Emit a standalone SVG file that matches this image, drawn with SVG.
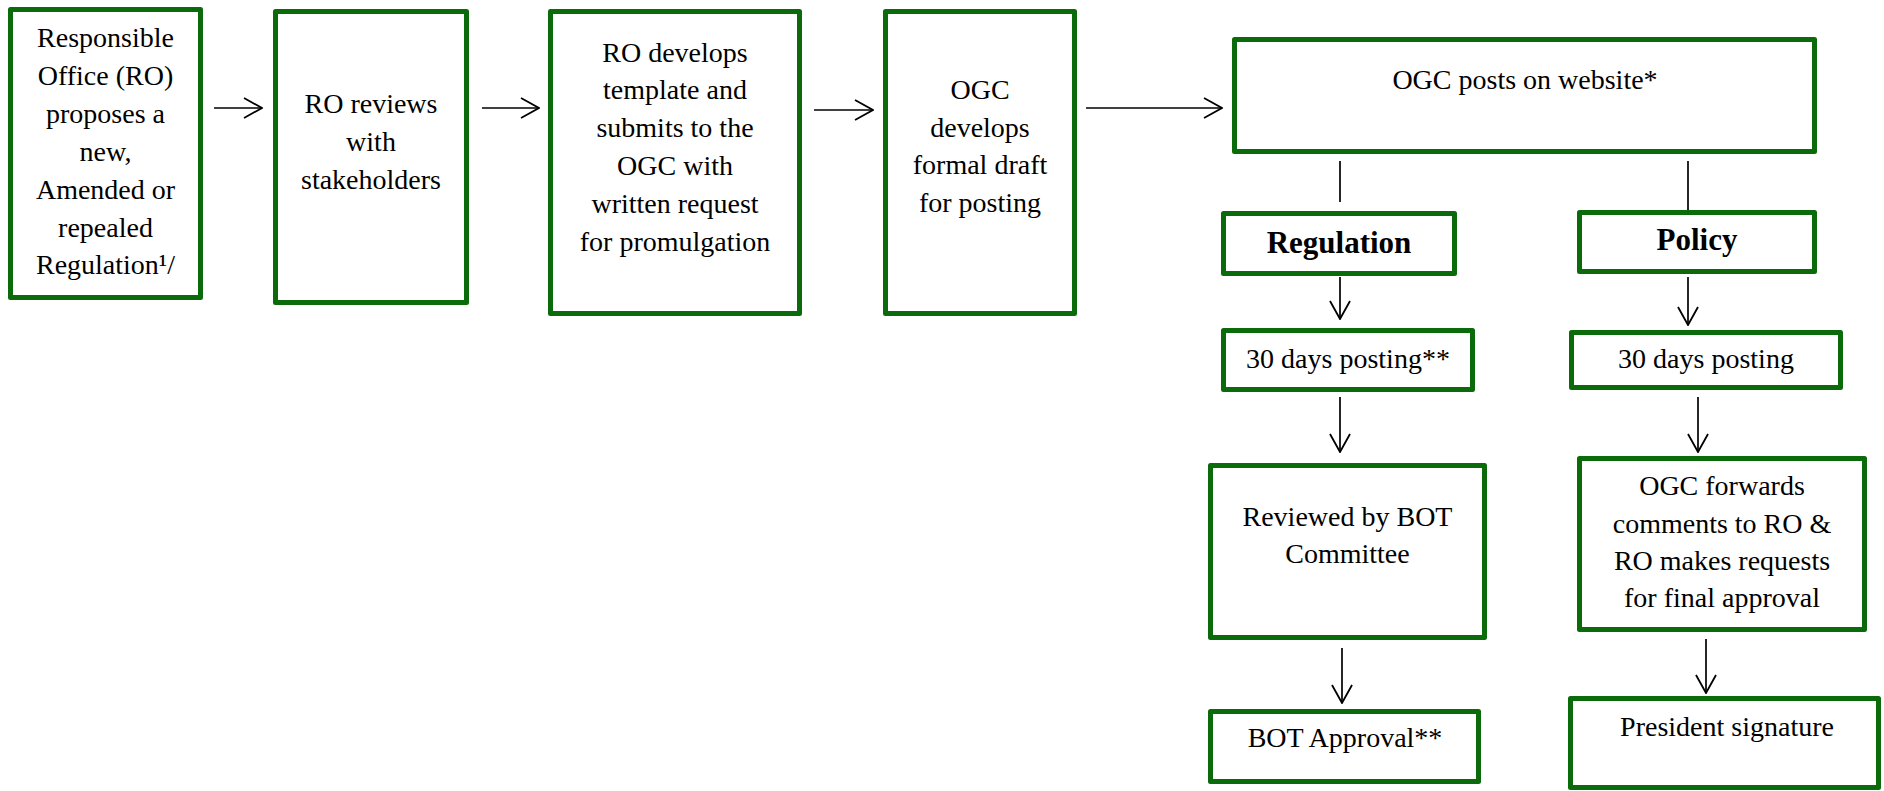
<svg xmlns="http://www.w3.org/2000/svg" width="1884" height="791" viewBox="0 0 1884 791">
<style>
.box{fill:#ffffff;stroke:#0b6b0b;stroke-width:5;stroke-linejoin:round}
.t{font-family:"Liberation Serif","Times New Roman",serif;font-size:28px;fill:#000;text-anchor:middle}
.b{font-family:"Liberation Serif","Times New Roman",serif;font-size:31px;font-weight:bold;fill:#000;text-anchor:middle}
.c{stroke:#000;stroke-width:1.7;fill:none}
</style>
<defs>
<marker id="arr" viewBox="0 0 20 22" refX="19" refY="11" markerWidth="20" markerHeight="22" markerUnits="userSpaceOnUse" orient="auto">
<path d="M1,1 L19,11 L1,21" fill="none" stroke="#000" stroke-width="1.8"/>
</marker>
</defs>
<rect width="1884" height="791" fill="#ffffff"/>
<g id="connectors">
<line class="c" x1="214" y1="108" x2="262" y2="108" marker-end="url(#arr)"/>
<line class="c" x1="482" y1="108" x2="539" y2="108" marker-end="url(#arr)"/>
<line class="c" x1="814" y1="110" x2="873" y2="110" marker-end="url(#arr)"/>
<line class="c" x1="1086" y1="108" x2="1222" y2="108" marker-end="url(#arr)"/>
<line class="c" x1="1340" y1="161" x2="1340" y2="202"/>
<line class="c" x1="1688" y1="161" x2="1688" y2="212"/>
<line class="c" x1="1340" y1="277" x2="1340" y2="319" marker-end="url(#arr)"/>
<line class="c" x1="1688" y1="277" x2="1688" y2="325" marker-end="url(#arr)"/>
<line class="c" x1="1340" y1="397" x2="1340" y2="452" marker-end="url(#arr)"/>
<line class="c" x1="1698" y1="397" x2="1698" y2="452" marker-end="url(#arr)"/>
<line class="c" x1="1342" y1="648" x2="1342" y2="703" marker-end="url(#arr)"/>
<line class="c" x1="1706" y1="639" x2="1706" y2="693" marker-end="url(#arr)"/>
</g>
<g id="n1">
<rect class="box" x="10.5" y="9.5" width="190" height="288"/>
<text class="t" x="105.5" y="47">Responsible</text>
<text class="t" x="105.5" y="85">Office (RO)</text>
<text class="t" x="105.5" y="123">proposes a</text>
<text class="t" x="105.5" y="161">new,</text>
<text class="t" x="105.5" y="199">Amended or</text>
<text class="t" x="105.5" y="237">repealed</text>
<text class="t" x="105.5" y="274">Regulation¹/</text>
</g>
<g id="n2">
<rect class="box" x="275.5" y="11.5" width="191" height="291"/>
<text class="t" x="371" y="113">RO reviews</text>
<text class="t" x="371" y="151">with</text>
<text class="t" x="371" y="189">stakeholders</text>
</g>
<g id="n3">
<rect class="box" x="550.5" y="11.5" width="249" height="302"/>
<text class="t" x="675" y="62">RO develops</text>
<text class="t" x="675" y="99">template and</text>
<text class="t" x="675" y="137">submits to the</text>
<text class="t" x="675" y="175">OGC with</text>
<text class="t" x="675" y="213">written request</text>
<text class="t" x="675" y="251">for promulgation</text>
</g>
<g id="n4">
<rect class="box" x="885.5" y="11.5" width="189" height="302"/>
<text class="t" x="980" y="99">OGC</text>
<text class="t" x="980" y="137">develops</text>
<text class="t" x="980" y="174">formal draft</text>
<text class="t" x="980" y="212">for posting</text>
</g>
<g id="n5">
<rect class="box" x="1234.5" y="39.5" width="580" height="112"/>
<text class="t" x="1525" y="89">OGC posts on website*</text>
</g>
<g id="n-regulation">
<rect class="box" x="1223.5" y="213.5" width="231" height="60"/>
<text class="b" x="1339" y="253">Regulation</text>
</g>
<g id="n-policy">
<rect class="box" x="1579.5" y="212.5" width="235" height="59"/>
<text class="b" x="1697" y="250">Policy</text>
</g>
<g id="n-reg30">
<rect class="box" x="1223.5" y="330.5" width="249" height="59"/>
<text class="t" x="1348" y="368">30 days posting**</text>
</g>
<g id="n-pol30">
<rect class="box" x="1571.5" y="332.5" width="269" height="55"/>
<text class="t" x="1706" y="368">30 days posting</text>
</g>
<g id="n-reviewed">
<rect class="box" x="1210.5" y="465.5" width="274" height="172"/>
<text class="t" x="1347.5" y="526">Reviewed by BOT</text>
<text class="t" x="1347.5" y="563">Committee</text>
</g>
<g id="n-forwards">
<rect class="box" x="1579.5" y="458.5" width="285" height="171"/>
<text class="t" x="1722" y="495">OGC forwards</text>
<text class="t" x="1722" y="533">comments to RO &amp;</text>
<text class="t" x="1722" y="570">RO makes requests</text>
<text class="t" x="1722" y="607">for final approval</text>
</g>
<g id="n-botapproval">
<rect class="box" x="1210.5" y="711.5" width="268" height="70"/>
<text class="t" x="1345" y="747">BOT Approval**</text>
</g>
<g id="n-president">
<rect class="box" x="1570.5" y="698.5" width="308" height="89"/>
<text class="t" x="1727" y="736">President signature</text>
</g>
</svg>
